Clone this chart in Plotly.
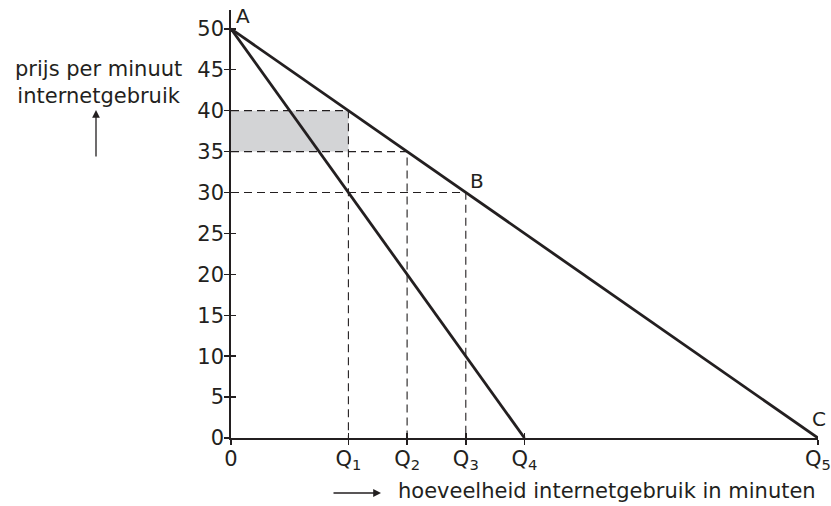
import plotly.graph_objects as go

# ---- data ----
q_tick_values = [0, 20, 30, 40, 50, 100]
q_tick_labels = ["0", "Q<sub>1</sub>", "Q<sub>2</sub>", "Q<sub>3</sub>", "Q<sub>4</sub>", "Q<sub>5</sub>"]
price_ticks = [0, 5, 10, 15, 20, 25, 30, 35, 40, 45, 50]

demand_x = [0, 100]          # A -> C
demand_y = [50, 0]
mr_x = [0, 50]               # A -> Q4
mr_y = [50, 0]

guide_q = [20, 30, 40]       # Q1, Q2, Q3
guide_p = [40, 35, 30]       # prices on the demand line

shade_x = [0, 20, 20, 0]
shade_y = [35, 35, 40, 40]

point_labels = ["A", "B", "C"]
point_x = [0, 40, 100]
point_y = [50, 30, 0]

INK = "#231f20"
FONT = "DejaVu Sans"

# plot area size in px (used to place outside annotations in paper units)
PW, PH = 587, 428

fig = go.Figure()

# shaded rectangle
fig.add_trace(go.Scatter(x=shade_x, y=shade_y, fill="toself", mode="none",
                         fillcolor="#d3d4d6", hoverinfo="skip", showlegend=False))

# dashed guide lines
gx, gy = [], []
for q, p in zip(guide_q, guide_p):
    gx += [0, q, q, None]
    gy += [p, p, 0, None]
fig.add_trace(go.Scatter(x=gx, y=gy, mode="lines",
                         line=dict(color=INK, width=1.1, dash="8px,5px"),
                         hoverinfo="skip", showlegend=False))

# demand and marginal revenue lines
fig.add_trace(go.Scatter(x=demand_x, y=demand_y, mode="lines",
                         line=dict(color=INK, width=2.8), showlegend=False))
fig.add_trace(go.Scatter(x=mr_x, y=mr_y, mode="lines",
                         line=dict(color=INK, width=2.8), showlegend=False))

# invisible trace for overlay axes (inside tick halves)
fig.add_trace(go.Scatter(x=[0], y=[0], xaxis="x2", yaxis="y2", mode="markers",
                         marker=dict(opacity=0), hoverinfo="skip", showlegend=False))

# point labels A, B, C
shifts = {"A": (12, 13), "B": (11, 11), "C": (1, 19)}
for lab, px, py in zip(point_labels, point_x, point_y):
    dx, dy = shifts[lab]
    fig.add_annotation(x=px, y=py, text=lab, showarrow=False,
                       xanchor="center", yanchor="middle",
                       xshift=dx, yshift=dy, font=dict(size=20, color=INK, family=FONT))

# y-axis title with arrow
fig.add_annotation(xref="paper", yref="paper", x=(98 - 231) / PW, y=(438 - 82) / PH,
                   text="prijs per minuut<br>internetgebruik", showarrow=False,
                   xanchor="center", yanchor="middle",
                   align="center", font=dict(size=21, color=INK, family=FONT))
fig.add_annotation(xref="paper", yref="paper", x=(96 - 231) / PW, y=(438 - 110) / PH,
                   ax=0, ay=48, text="", showarrow=True, arrowhead=2, arrowsize=1.2,
                   arrowwidth=1.3, arrowcolor=INK)

# x-axis title with arrow
fig.add_annotation(xref="paper", yref="paper", x=1.0, y=-(491 - 438) / PH,
                   text="hoeveelheid internetgebruik in minuten", showarrow=False,
                   xanchor="right", yanchor="middle",
                   font=dict(size=21, color=INK, family=FONT))
fig.add_annotation(xref="paper", yref="paper", x=(381 - 231) / PW, y=-(493 - 438) / PH,
                   ax=-49, ay=0, text="", showarrow=True, arrowhead=2, arrowsize=1.2,
                   arrowwidth=1.3, arrowcolor=INK)

axis_common = dict(showgrid=False, zeroline=False, tickcolor=INK, tickwidth=1.5,
                   ticklen=5, automargin=False)

fig.update_layout(
    width=831, height=506,
    margin=dict(l=231, r=13, t=10, b=68),
    paper_bgcolor="white", plot_bgcolor="white",
    font=dict(family=FONT, color=INK, size=19),
    hovermode=False,
    xaxis=dict(range=[0, 100], tickvals=q_tick_values, ticktext=q_tick_labels,
               ticks="outside", showline=True, linecolor=INK, linewidth=1.8,
               ticklabelstandoff=-4, ticklabeloverflow="allow",
               tickfont=dict(size=21, color=INK, family=FONT), **axis_common),
    yaxis=dict(range=[0, 52.3], tickvals=price_ticks, ticks="outside",
               showline=True, linecolor=INK, linewidth=1.8, ticklabelstandoff=-4,
               ticklabeloverflow="allow",
               tickfont=dict(size=21, color=INK, family=FONT), **axis_common),
    xaxis2=dict(range=[0, 100], overlaying="x", anchor="y", side="bottom",
                tickvals=q_tick_values[1:], ticks="inside", showticklabels=False,
                showline=False, **axis_common),
    yaxis2=dict(range=[0, 52.3], overlaying="y", anchor="x", side="left",
                tickvals=price_ticks[1:], ticks="inside", showticklabels=False,
                showline=False, **axis_common),
)

# remove the default 8px page margin so the figure fills the window exactly
fig.write_html("out.html",
               config={"displayModeBar": False, "staticPlot": True},
               post_script="document.body.style.margin='0px';document.body.style.overflow='hidden';")
